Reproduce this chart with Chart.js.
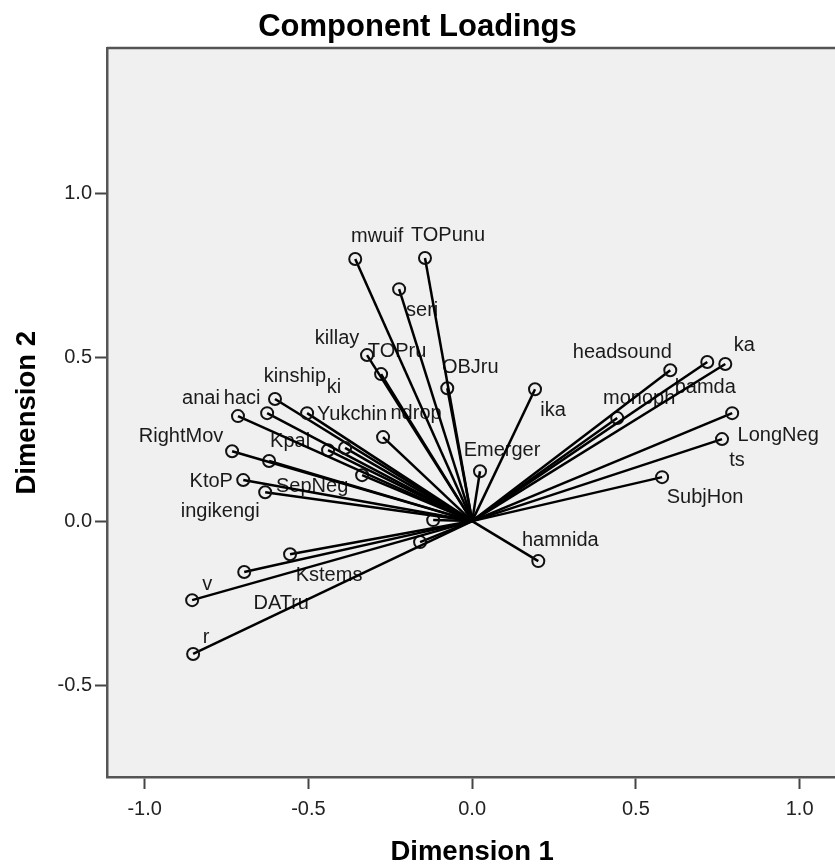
<!DOCTYPE html>
<html>
<head>
<meta charset="utf-8">
<script src="https://cdn.jsdelivr.net/npm/chart.js@4/dist/chart.umd.min.js"></script>
<style>
  html, body { margin: 0; padding: 0; background: #fff; }
  #wrap { width: 835px; height: 866px; }
</style>
</head>
<body>
<div id="wrap"><canvas id="loadingsChart" width="835" height="866"></canvas></div>
<script>
// variable names and their loadings on the two dimensions
const namaVariabel = ['mwuif', 'TOPunu', 'seri', 'killay', 'TOPru', 'OBJru', 'ika', 'headsound', 'bamda', 'ka',
    'monoph', 'LongNeg', 'ts', 'SubjHon', 'Emerger', 'hamnida', 'ndrop', 'Yukchin', 'ki', 'kinship',
    'anai', 'haci', 'RightMov', 'Kpal', 'KtoP', 'ingikengi', 'SepNeg', 'Kstems', 'DATru', 'v', 'r', '', '', ''];
const dimensi1 = [-0.357, -0.144, -0.223, -0.321, -0.278, -0.076, 0.192, 0.605, 0.718, 0.773,
    0.443, 0.794, 0.763, 0.580, 0.024, 0.202, -0.272, -0.504, -0.388, -0.602,
    -0.715, -0.626, -0.733, -0.620, -0.699, -0.632, -0.336, -0.556, -0.696, -0.855, -0.852, -0.440, -0.119, -0.159];
const dimensi2 = [0.799, 0.802, 0.707, 0.506, 0.448, 0.405, 0.402, 0.460, 0.485, 0.479,
    0.314, 0.329, 0.250, 0.134, 0.152, -0.122, 0.256, 0.329, 0.223, 0.372,
    0.320, 0.329, 0.213, 0.183, 0.125, 0.088, 0.140, -0.101, -0.155, -0.241, -0.405, 0.216, 0.003, -0.064];
const tickSumbu = [-1.0, -0.5, 0.0, 0.5, 1.0];

// where each label sits relative to its point (px)
const geserX = [22, 23, 23, -30, 16, 23, 18, -48, -2, 19, 22, 46, 15, 43, 22, 22, 33, 45, -11, 20,
    -37, -25, -51, 21, -32, -45, -50, 39, 37, 15, 13, 0, 0, 0];
const geserY = [-22, -22, 21, -17, -23, -21, 21, -18, 26, -18, -20, 22, 21, 20, -21, -21, -24, 1, -60, -23,
    -18, -15, -15, -20, 1, 19, 11, 21, 32, -16, -16, 0, 0, 0];

const FONT = '"Liberation Sans", Arial, sans-serif';

const datasets = namaVariabel.map((nama, i) => ({
    label: nama,
    data: [{ x: 0, y: 0 }, { x: dimensi1[i], y: dimensi2[i] }],
    showLine: true,
    borderColor: '#000',
    borderWidth: 2.5,
    pointRadius: [0, 6],
    pointBorderWidth: 2,
    pointBorderColor: '#111',
    pointBackgroundColor: 'rgba(0,0,0,0)'
}));

const latarPlot = {
    id: 'latarPlot',
    beforeDraw(chart) {
        const { ctx, chartArea: a } = chart;
        ctx.save();
        ctx.fillStyle = '#f0f0f0';
        ctx.fillRect(a.left, a.top, a.right - a.left, a.bottom - a.top);
        ctx.restore();
    },
    beforeDatasetsDraw(chart) {
        const { ctx, scales } = chart;
        ctx.save();
        ctx.font = '20px ' + FONT;
        ctx.fillStyle = '#1a1a1a';
        ctx.textAlign = 'center';
        ctx.textBaseline = 'middle';
        namaVariabel.forEach((nama, i) => {
            if (!nama) return;
            const px = scales.x.getPixelForValue(dimensi1[i]) + geserX[i];
            const py = scales.y.getPixelForValue(dimensi2[i]) + geserY[i];
            ctx.fillText(nama, px, py);
        });
        ctx.restore();
    },
    afterDraw(chart) {
        const { ctx, chartArea: a, scales } = chart;
        ctx.save();
        // top frame line
        ctx.strokeStyle = '#555';
        ctx.lineWidth = 2.5;
        ctx.beginPath();
        ctx.moveTo(a.left, a.top);
        ctx.lineTo(a.right, a.top);
        ctx.stroke();

        ctx.fillStyle = '#000';
        ctx.textAlign = 'center';
        ctx.textBaseline = 'middle';
        ctx.font = 'bold 31px ' + FONT;
        ctx.fillText('Component Loadings', chart.width / 2, 27);

        ctx.font = 'bold 27.5px ' + FONT;
        ctx.fillText('Dimension 1', scales.x.getPixelForValue(0), 852);

        ctx.translate(27, scales.y.getPixelForValue(0.33));
        ctx.rotate(-Math.PI / 2);
        ctx.fillText('Dimension 2', 0, 0);
        ctx.restore();
    }
};

const sumbu = {
    type: 'linear',
    ticks: {
        stepSize: 0.5,
        includeBounds: false,
        color: '#222',
        font: { family: FONT, size: 20 },
        padding: 3,
        callback: (v) => tickSumbu.includes(v) ? v.toFixed(1) : ''
    },
    grid: {
        drawOnChartArea: false,
        drawTicks: true,
        tickLength: 12,
        tickColor: '#444',
        tickWidth: 2
    },
    border: { display: true, color: '#555', width: 2.5 }
};

new Chart(document.getElementById('loadingsChart'), {
    type: 'scatter',
    data: { datasets },
    options: {
        responsive: false,
        animation: false,
        devicePixelRatio: 1,
        layout: { autoPadding: false, padding: { top: 48, left: 0, right: 0, bottom: 0 } },
        plugins: {
            legend: { display: false },
            tooltip: { enabled: false }
        },
        scales: {
            x: Object.assign({}, sumbu, {
                position: 'bottom',
                min: -1.115,
                max: 1.108,
                ticks: Object.assign({}, sumbu.ticks, { padding: 8 }),
                afterFit: (s) => { s.height = 89; }
            }),
            y: Object.assign({}, sumbu, {
                position: 'left',
                min: -0.78,
                max: 1.442,
                afterFit: (s) => { s.width = 107; }
            })
        }
    },
    plugins: [latarPlot]
});
</script>
</body>
</html>
